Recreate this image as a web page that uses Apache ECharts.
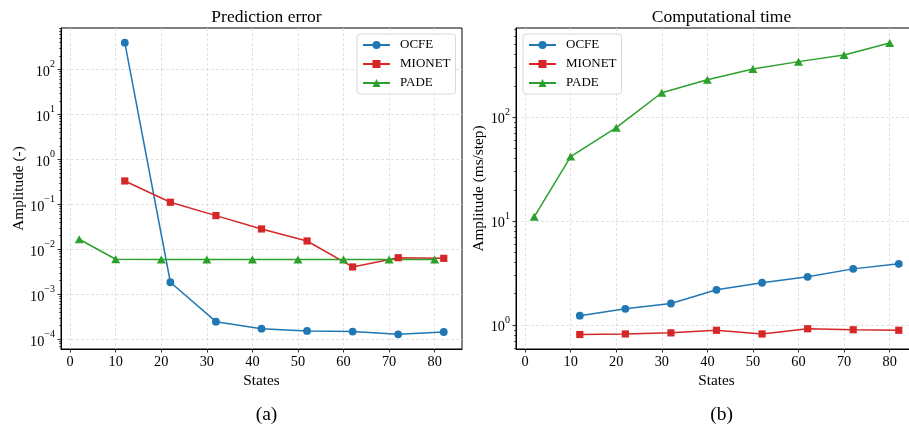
<!DOCTYPE html>
<html>
<head>
<meta charset="utf-8">
<title>Prediction error and computational time</title>
<script src="https://cdn.jsdelivr.net/npm/echarts@6/dist/echarts.min.js"></script>
<style>
  html, body { margin: 0; padding: 0; background: #fff; }
  #chart { width: 909px; height: 429px; }
</style>
</head>
<body>
<div id="chart"></div>
<script>
// Number of states for each model run
const statesOcfe = [12, 22, 32, 42, 52, 62, 72, 82];
const statesMionet = [12, 22, 32, 42, 52, 62, 72, 82];
const statesPade = [2, 10, 20, 30, 40, 50, 60, 70, 80];

// Prediction error (-)
const errorOcfe = [390, 1.85e-3, 2.46e-4, 1.72e-4, 1.53e-4, 1.48e-4, 1.29e-4, 1.45e-4];
const errorMionet = [0.33, 0.111, 0.056, 0.0283, 0.0153, 4.05e-3, 6.5e-3, 6.3e-3];
const errorPade = [0.0167, 6.0e-3, 5.95e-3, 5.95e-3, 5.95e-3, 5.95e-3, 5.95e-3, 5.95e-3, 5.95e-3];

// Computational time (ms/step)
const timeOcfe = [1.23, 1.43, 1.61, 2.18, 2.55, 2.91, 3.47, 3.88];
const timeMionet = [0.81, 0.82, 0.84, 0.89, 0.82, 0.92, 0.90, 0.89];
const timePade = [11.0, 41.8, 79.4, 172, 230, 291, 343, 397, 518];

// Tick labels
const xTicks = [0, 10, 20, 30, 40, 50, 60, 70, 80];
const errorDecades = [-4, -3, -2, -1, 0, 1, 2];
const timeDecades = [0, 1, 2];

const seriesNames = ['OCFE', 'MIONET', 'PADE'];
const colors = ['#1f77b4', '#d62728', '#2ca02c'];
const symbols = ['circle', 'rect', 'triangle'];
const symbolSizes = [7.8, 7.2, [9, 8]];

const FONT = "'Liberation Serif', 'Times New Roman', 'DejaVu Serif', serif";

// y axes work in log10 space
const errorRange = [-4.216, 2.918];
const timeRange = [-0.231, 2.859];

function minorLogTicks(range) {
  const out = [];
  for (let n = Math.floor(range[0]) - 1; n <= Math.ceil(range[1]); n++) {
    for (let k = 2; k <= 9; k++) {
      const v = Math.log10(k) + n;
      if (v > range[0] && v < range[1]) out.push(v);
    }
  }
  return out;
}

function pairs(xs, ys) {
  return xs.map((x, i) => [x, Math.log10(ys[i])]);
}

function expLabel(v) {
  const e = Math.round(v);
  const s = e < 0 ? '\u2212' + Math.abs(e) : String(e);
  return '{b|10}{e|' + s + '}';
}

const richExp = {
  b: { fontFamily: FONT, fontSize: 14.3, color: '#000', lineHeight: 15, verticalAlign: 'bottom' },
  e: { fontFamily: FONT, fontSize: 10, color: '#000', lineHeight: 19, verticalAlign: 'top' }
};

const gridLine = { show: true, lineStyle: { color: '#d6d6d6', width: 0.7, type: [3, 2] } };

function xAxisFor(gridIndex) {
  return {
    type: 'value', gridIndex: gridIndex, min: -2, max: 86,
    name: 'States', nameLocation: 'middle', nameGap: 22,
    nameTextStyle: { fontFamily: FONT, fontSize: 15.3, color: '#000' },
    axisLine: { show: true, onZero: false, lineStyle: { color: '#000', width: 1 } },
    axisTick: { show: true, length: 3.5, lineStyle: { color: '#000', width: 0.8 }, customValues: xTicks },
    axisLabel: { fontFamily: FONT, fontSize: 14.3, color: '#000', margin: 6, customValues: xTicks },
    splitLine: gridLine
  };
}

function yAxisFor(gridIndex, range, decades, name, gap) {
  return {
    type: 'value', gridIndex: gridIndex, min: range[0], max: range[1],
    name: name, nameLocation: 'middle', nameGap: gap,
    nameTextStyle: { fontFamily: FONT, fontSize: 15.3, color: '#000' },
    axisLine: { show: true, onZero: false, lineStyle: { color: '#000', width: 1 } },
    axisTick: { show: true, length: 3.5, lineStyle: { color: '#000', width: 0.8 }, customValues: decades },
    axisLabel: { margin: 6, customValues: decades, formatter: expLabel, rich: richExp },
    splitLine: gridLine
  };
}

function minorAxisFor(gridIndex, range) {
  return {
    type: 'value', gridIndex: gridIndex, min: range[0], max: range[1], position: 'left',
    axisLine: { show: false, onZero: false },
    axisTick: { show: true, length: 2, lineStyle: { color: '#000', width: 0.6 }, customValues: minorLogTicks(range) },
    axisLabel: { show: false },
    splitLine: { show: false }
  };
}

function lineSeries(i, xIndex, yIndex, xs, ys) {
  return {
    name: seriesNames[i], type: 'line', xAxisIndex: xIndex, yAxisIndex: yIndex,
    data: pairs(xs, ys),
    symbol: symbols[i], symbolSize: symbolSizes[i], showAllSymbol: true,
    lineStyle: { color: colors[i], width: 1.5 },
    itemStyle: { color: colors[i] },
    emphasis: { disabled: true },
    animation: false, clip: false
  };
}

function legendAt(left) {
  return {
    orient: 'vertical', left: left, top: 34,
    data: seriesNames,
    itemWidth: 27, itemHeight: 10, itemGap: 5,
    padding: [4, 5, 4, 5],
    borderColor: '#d9d9d9', borderWidth: 1, borderRadius: 3,
    backgroundColor: 'rgba(255,255,255,0.85)',
    textStyle: { fontFamily: FONT, fontSize: 13, color: '#000', lineHeight: 14, padding: [0, 0, 0, 5] },
    selectedMode: false
  };
}

const chart = echarts.init(document.getElementById('chart'), null, { renderer: 'canvas' });

chart.setOption({
  animation: false,
  backgroundColor: '#fff',
  title: [
    { text: 'Prediction error', left: 261.5, top: 3, textAlign: 'center',
      textStyle: { fontFamily: FONT, fontSize: 17.5, fontWeight: 'normal', color: '#000' } },
    { text: 'Computational time', left: 716.5, top: 3, textAlign: 'center',
      textStyle: { fontFamily: FONT, fontSize: 17.5, fontWeight: 'normal', color: '#000' } },
    { text: '(a)', left: 261.5, top: 400, textAlign: 'center',
      textStyle: { fontFamily: FONT, fontSize: 19.5, fontWeight: 'normal', color: '#000' } },
    { text: '(b)', left: 716.5, top: 400, textAlign: 'center',
      textStyle: { fontFamily: FONT, fontSize: 19.5, fontWeight: 'normal', color: '#000' } }
  ],
  legend: [legendAt(357), legendAt(523)],
  grid: [
    { left: 61, top: 28, width: 401, height: 321, show: true, borderColor: '#000', borderWidth: 1,
      backgroundColor: 'transparent', outerBoundsMode: 'none', containLabel: false },
    { left: 516, top: 28, width: 401, height: 321, show: true, borderColor: '#000', borderWidth: 1,
      backgroundColor: 'transparent', outerBoundsMode: 'none', containLabel: false }
  ],
  xAxis: [xAxisFor(0), xAxisFor(1)],
  yAxis: [
    yAxisFor(0, errorRange, errorDecades, 'Amplitude (-)', 35),
    yAxisFor(1, timeRange, timeDecades, 'Amplitude (ms/step)', 29),
    minorAxisFor(0, errorRange),
    minorAxisFor(1, timeRange)
  ],
  series: [
    lineSeries(0, 0, 0, statesOcfe, errorOcfe),
    lineSeries(1, 0, 0, statesMionet, errorMionet),
    lineSeries(2, 0, 0, statesPade, errorPade),
    lineSeries(0, 1, 1, statesOcfe, timeOcfe),
    lineSeries(1, 1, 1, statesMionet, timeMionet),
    lineSeries(2, 1, 1, statesPade, timePade)
  ]
});
</script>
</body>
</html>
